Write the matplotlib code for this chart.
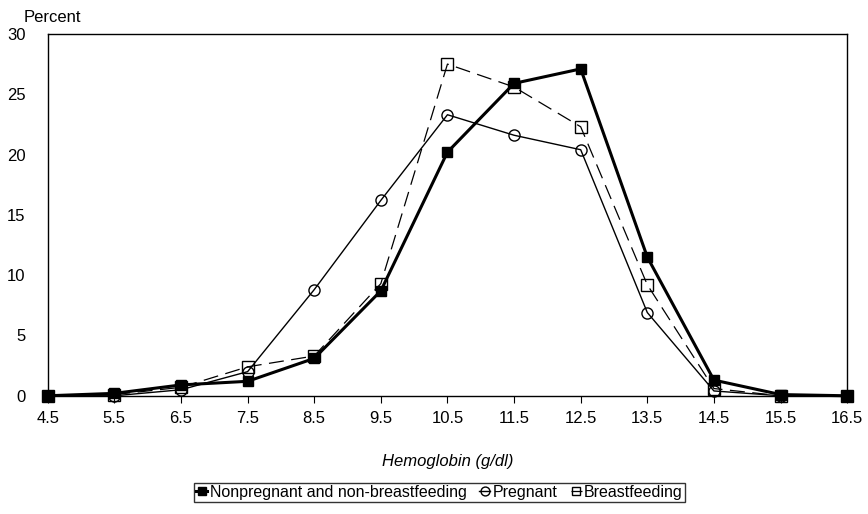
import matplotlib
matplotlib.use('Agg')
import matplotlib.pyplot as plt

plt.rcParams['font.family'] = ['Liberation Sans', 'DejaVu Sans']

# Hemoglobin bins
hb = [4.5, 5.5, 6.5, 7.5, 8.5, 9.5, 10.5, 11.5, 12.5, 13.5, 14.5, 15.5, 16.5]
nonpregnant = [0, 0.2, 0.9, 1.2, 3.1, 8.7, 20.2, 25.9, 27.1, 11.5, 1.3, 0.1, 0]
pregnant = [0, 0, 0.5, 2.0, 8.8, 16.2, 23.3, 21.6, 20.4, 6.9, 0.4, 0, 0]
breastfeeding = [0, 0.1, 0.7, 2.4, 3.3, 9.3, 27.5, 25.6, 22.3, 9.2, 0.6, 0, 0]

fig = plt.figure(figsize=(8.68, 5.14), dpi=100)
ax = fig.add_axes([0.055, 0.23, 0.921, 0.704])

ax.plot(hb, nonpregnant, '-', color='black', lw=2.2, marker='s', ms=7,
        mfc='black', label='Nonpregnant and non-breastfeeding', zorder=3)
ax.plot(hb, pregnant, '-', color='black', lw=1.0, marker='o', ms=8,
        mfc='none', label='Pregnant', zorder=2)
ax.plot(hb, breastfeeding, color='black', lw=0.9, dashes=(12, 6), marker='s', ms=8,
        mfc='none', label='Breastfeeding', zorder=2)

ax.set_xlim(4.5, 16.5)
ax.set_ylim(0, 30)
ax.set_xticks(hb)
ax.set_xticklabels([str(v) for v in hb])
ax.set_yticks([0, 5, 10, 15, 20, 25, 30])
ax.tick_params(axis='x', direction='out', length=5, labelsize=12, pad=6)
ax.tick_params(axis='y', length=0, labelsize=12, pad=16)
for sp in ax.spines.values():
    sp.set_linewidth(1.0)
for ln in ax.lines:
    ln.set_clip_on(False)

ax.text(-0.03, 1.025, 'Percent', transform=ax.transAxes, fontsize=12, va='bottom')
ax.set_xlabel('Hemoglobin (g/dl)', fontsize=12, style='italic', labelpad=20)

leg = ax.legend(loc='upper center', bbox_to_anchor=(0.49, -0.24), ncol=3,
                frameon=True, fancybox=False, edgecolor='black', fontsize=11.5,
                handlelength=0.7, handletextpad=0.15, columnspacing=0.8,
                borderpad=0.15, borderaxespad=0, markerscale=0.8)
leg.get_frame().set_linewidth(1.0)

fig.savefig('out.png', dpi=100)
